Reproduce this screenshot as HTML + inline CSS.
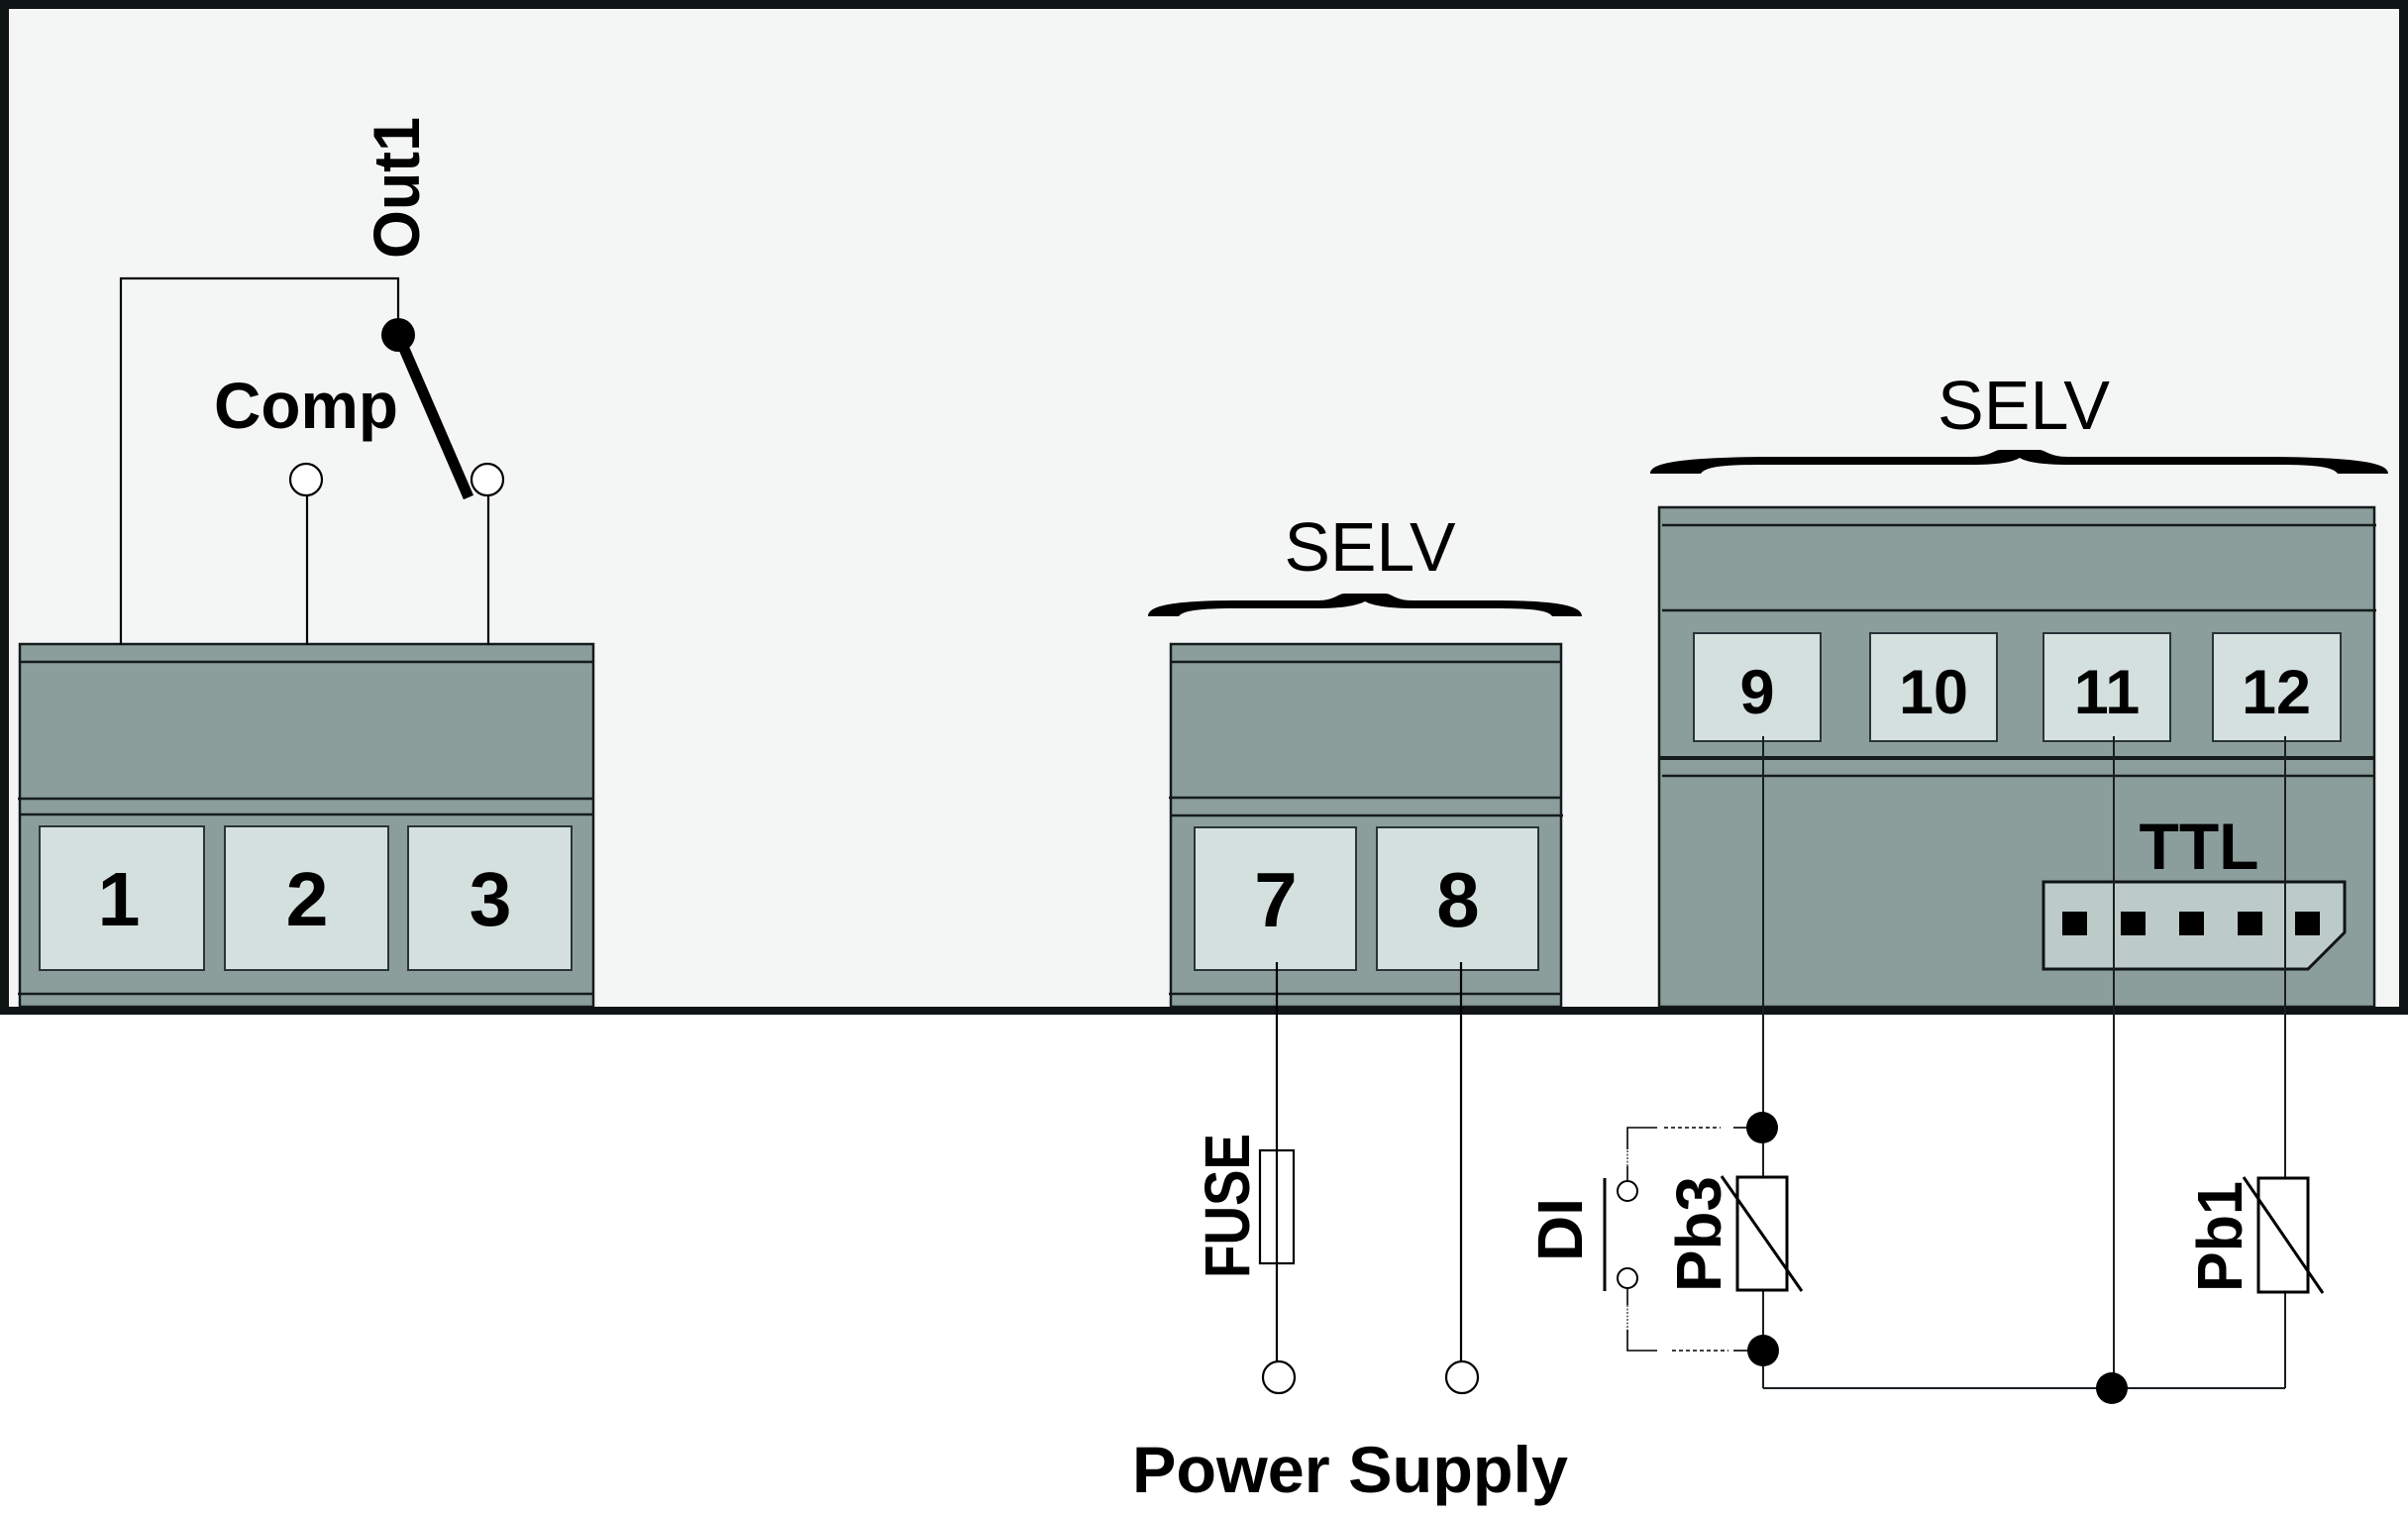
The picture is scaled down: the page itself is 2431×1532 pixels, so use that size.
<!DOCTYPE html>
<html><head><meta charset="utf-8"><style>
html,body{margin:0;padding:0;background:#fff;}
svg{display:block;}
text{font-family:"Liberation Sans",Arial,sans-serif;fill:#000;}
.b{font-weight:bold;}
</style></head><body>
<svg width="2431" height="1532" viewBox="0 0 2431 1532" xmlns="http://www.w3.org/2000/svg">
<rect x="0" y="0" width="2431" height="1532" fill="#ffffff"/>
<rect x="0" y="0" width="2431" height="1024" fill="#f4f6f5"/>

<!-- Block A -->
<g stroke="#151b1b" stroke-width="2.5">
<rect x="20" y="650" width="579" height="366" fill="#8b9e9b"/>
<line x1="20" y1="668" x2="599" y2="668"/>
<line x1="18" y1="806" x2="599" y2="806"/>
<line x1="20" y1="822" x2="599" y2="822"/>
<line x1="18" y1="1003" x2="599" y2="1003"/>
</g>
<g fill="#d4e0de" stroke="#2a3438" stroke-width="2">
<rect x="40" y="834" width="166" height="145"/>
<rect x="227" y="834" width="165" height="145"/>
<rect x="412" y="834" width="165" height="145"/>
</g>
<g class="b" font-size="77" text-anchor="middle">
<text x="120" y="934" class="b">1</text>
<text x="310" y="934" class="b">2</text>
<text x="495" y="934" class="b">3</text>
</g>

<!-- Block B -->
<g stroke="#151b1b" stroke-width="2.5">
<rect x="1182" y="650" width="394" height="366" fill="#8b9e9b"/>
<line x1="1182" y1="668" x2="1576" y2="668"/>
<line x1="1180" y1="805" x2="1576" y2="805"/>
<line x1="1182" y1="823" x2="1578" y2="823"/>
<line x1="1180" y1="1003" x2="1576" y2="1003"/>
</g>
<g fill="#d4e0de" stroke="#2a3438" stroke-width="2">
<rect x="1206" y="835" width="163" height="144"/>
<rect x="1390" y="835" width="163" height="144"/>
</g>
<text x="1288" y="935" font-size="78" text-anchor="middle" class="b">7</text>
<text x="1472" y="935" font-size="78" text-anchor="middle" class="b">8</text>

<!-- Block C -->
<g stroke="#151b1b" stroke-width="2.5">
<rect x="1675" y="512" width="722" height="504" fill="#8b9e9b"/>
<line x1="1678" y1="530" x2="2399" y2="530"/>
<line x1="1678" y1="616" x2="2399" y2="616"/>
<line x1="1675" y1="765" x2="2397" y2="765" stroke-width="4"/>
<line x1="1678" y1="783" x2="2397" y2="783"/>
</g>
<g fill="#d4e0de" stroke="#2a3438" stroke-width="2">
<rect x="1710" y="639" width="128" height="109"/>
<rect x="1888" y="639" width="128" height="109"/>
<rect x="2063" y="639" width="128" height="109"/>
<rect x="2234" y="639" width="129" height="109"/>
</g>
<g font-size="63" text-anchor="middle">
<text x="1774" y="720" class="b">9</text>
<text x="1952" y="720" class="b">10</text>
<text x="2127" y="720" class="b">11</text>
<text x="2298" y="720" class="b">12</text>
</g>
<text x="2220" y="877" font-size="66" text-anchor="middle" class="b" textLength="121" lengthAdjust="spacingAndGlyphs">TTL</text>
<polygon points="2063,890 2367,890 2367,941 2330,978 2063,978" fill="#bccbc8" stroke="#0f1414" stroke-width="3"/>
<g fill="#000">
<rect x="2082" y="920" width="25" height="24"/>
<rect x="2141" y="920" width="25" height="24"/>
<rect x="2200" y="920" width="25" height="24"/>
<rect x="2259" y="920" width="25" height="24"/>
<rect x="2317" y="920" width="25" height="24"/>
</g>

<!-- Frame border -->
<g fill="#0f1414">
<rect x="0" y="0" width="2431" height="9"/>
<rect x="0" y="0" width="9" height="1024"/>
<rect x="2422" y="0" width="9" height="1024"/>
<rect x="0" y="1016" width="2431" height="8"/>
</g>

<!-- Out1 switch -->
<g stroke="#000" stroke-width="2.2" fill="none">
<polyline points="122,651 122,281 402,281 402,330"/>
<line x1="310" y1="500" x2="310" y2="651"/>
<line x1="493" y1="500" x2="493" y2="651"/>
<circle cx="309" cy="484" r="16" fill="#fff"/>
<circle cx="492" cy="484" r="16" fill="#fff"/>
</g>
<line x1="402" y1="338" x2="473" y2="502" stroke="#000" stroke-width="11"/>
<circle cx="402" cy="338" r="17" fill="#000"/>
<text x="216" y="432" font-size="66" class="b" textLength="186" lengthAdjust="spacingAndGlyphs">Comp</text>
<text transform="translate(423,261) rotate(-90)" font-size="66" class="b" textLength="143" lengthAdjust="spacingAndGlyphs">Out1</text>

<!-- SELV labels & braces -->
<text x="1383" y="576" font-size="70" text-anchor="middle" textLength="173" lengthAdjust="spacingAndGlyphs">SELV</text>
<text x="2043" y="433" font-size="70" text-anchor="middle" textLength="174" lengthAdjust="spacingAndGlyphs">SELV</text>
<path fill="#000" d="M1159,622 C1159,612 1180,606 1250,606 L1330,606 C1348,606 1350,599 1358,599 L1398,599 C1406,599 1408,606 1426,606 L1506,606 C1576,606 1597,612 1597,622 L1567,622 C1563,615 1540,614 1506,614 L1428,614 C1400,614 1386,611 1378,607 C1370,611 1356,614 1328,614 L1250,614 C1220,614 1195,615 1190,622 Z"/>
<path fill="#000" d="M1666,478 C1666,468 1690,462 1780,461 L1990,461 C2010,461 2012,454 2020,454 L2058,454 C2066,454 2068,461 2088,461 L2297,461 C2387,462 2411,468 2411,478 L2360,478 C2355,470 2330,469 2297,469 L2090,469 C2060,469 2045,466 2039,462 C2033,466 2018,469 1988,469 L1780,469 C1747,469 1722,470 1717,478 Z"/>

<!-- Power supply wiring -->
<g stroke="#000" stroke-width="2.2" fill="none">
<line x1="1289" y1="971" x2="1289" y2="1374"/>
<line x1="1475" y1="971" x2="1475" y2="1374"/>
<rect x="1272" y="1161" width="34" height="114"/>
<circle cx="1291" cy="1390" r="16" fill="#fff"/>
<circle cx="1476" cy="1390" r="16" fill="#fff"/>
</g>
<text transform="translate(1261,1290) rotate(-90)" font-size="64" class="b" textLength="146" lengthAdjust="spacingAndGlyphs">FUSE</text>
<text x="1143" y="1506" font-size="66" class="b" textLength="440" lengthAdjust="spacingAndGlyphs">Power Supply</text>

<!-- Probe wiring -->
<g stroke="#1a1f22" stroke-width="2" fill="none">
<line x1="1780" y1="743" x2="1780" y2="1188"/>
<line x1="1780" y1="1302" x2="1780" y2="1401"/>
<polyline points="1780,1401 2307,1401"/>
<line x1="2134" y1="743" x2="2134" y2="1401"/>
<line x1="2307" y1="743" x2="2307" y2="1189"/>
<line x1="2307" y1="1304" x2="2307" y2="1401"/>
</g>
<g stroke="#000" stroke-width="3" fill="none">
<rect x="1754" y="1188" width="50" height="114" fill="#fff"/>
<line x1="1738" y1="1187" x2="1819" y2="1303"/>
<rect x="2280" y="1189" width="50" height="115" fill="#fff"/>
<line x1="2265" y1="1188" x2="2345" y2="1305"/>
</g>
<circle cx="1779" cy="1138" r="16" fill="#000"/>
<circle cx="1780" cy="1363" r="16" fill="#000"/>
<circle cx="2132" cy="1401" r="16" fill="#000"/>
<text transform="translate(1737,1304) rotate(-90)" font-size="64" class="b" textLength="117" lengthAdjust="spacingAndGlyphs">Pb3</text>
<text transform="translate(2263,1304) rotate(-90)" font-size="64" class="b" textLength="112" lengthAdjust="spacingAndGlyphs">Pb1</text>

<!-- DI -->
<line x1="1620" y1="1189" x2="1620" y2="1303" stroke="#000" stroke-width="3"/>
<g stroke="#000" stroke-width="1.6" fill="none">
<line x1="1643" y1="1192" x2="1643" y2="1177"/>
<line x1="1643" y1="1177" x2="1643" y2="1160" stroke-dasharray="2,1.5" stroke="#555"/>
<polyline points="1643,1160 1643,1138 1673,1138"/>
<line x1="1680" y1="1138" x2="1737" y2="1138" stroke-dasharray="4,3"/>
<line x1="1750" y1="1138" x2="1765" y2="1138"/>
<line x1="1643" y1="1300" x2="1643" y2="1317"/>
<line x1="1643" y1="1317" x2="1643" y2="1342" stroke-dasharray="2,1.5" stroke="#555"/>
<polyline points="1643,1342 1643,1363 1673,1363"/>
<line x1="1688" y1="1363" x2="1745" y2="1363" stroke-dasharray="4,3"/>
<line x1="1750" y1="1363" x2="1765" y2="1363"/>
<circle cx="1643" cy="1202" r="10" fill="#fff" stroke-width="2"/>
<circle cx="1643" cy="1290" r="10" fill="#fff" stroke-width="2"/>
</g>
<text transform="translate(1597,1273) rotate(-90)" font-size="64" class="b">DI</text>
</svg>
</body></html>
